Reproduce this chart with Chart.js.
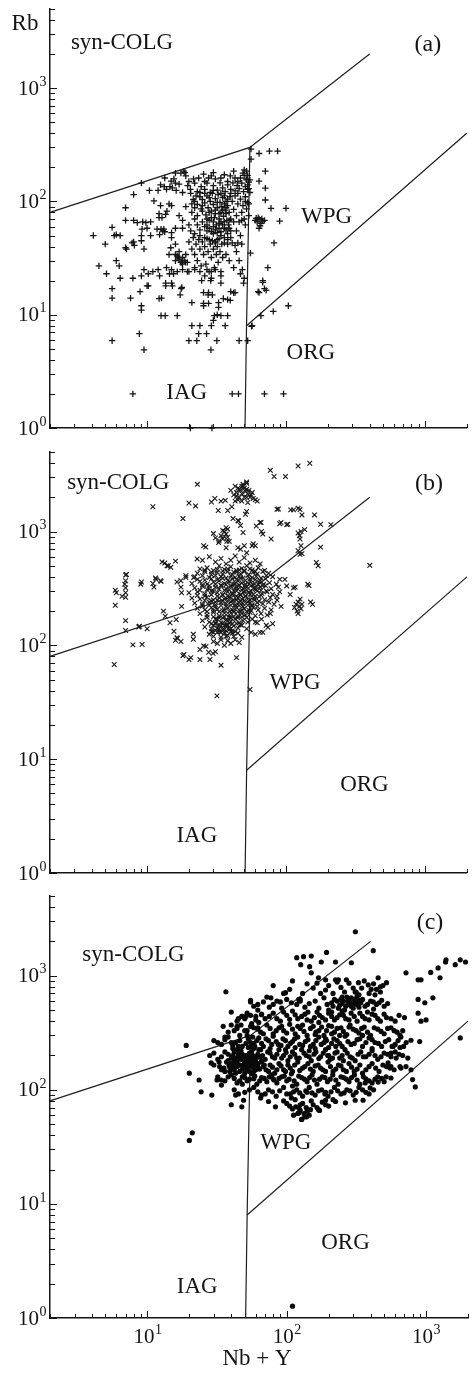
<!DOCTYPE html>
<html>
<head>
<meta charset="utf-8">
<script src="https://cdn.jsdelivr.net/npm/chart.js@4.4.1/dist/chart.umd.min.js"></script>
<style>
  html, body { margin: 0; background: #fff; }
  #sheet { position: relative; width: 472px; height: 1376px; background: #fff; }
  #sheet canvas { position: absolute; left: 0; }
</style>
</head>
<body>
<div id="sheet">
  <canvas id="panelA" width="472" height="440" style="top:0px"></canvas>
  <canvas id="panelB" width="472" height="440" style="top:445px"></canvas>
  <canvas id="panelC" width="472" height="488" style="top:888px"></canvas>
</div>
<script>
// Rb vs Nb+Y discrimination diagram, three sample groups

// axis ranges and tick labels
const xRange = [2, 2000];
const yRange = [1, 5000];
const yTickValues = [1, 10, 100, 1000];
const yTickExponents = ['0', '1', '2', '3'];
const xTickValues = [10, 100, 1000];
const xTickExponents = ['1', '2', '3'];

// field boundaries [Nb+Y, Rb]
const colgBoundary = [[2, 80], [55, 300], [400, 2000]];
const iagBoundary = [[50.7, 1], [52, 8], [55, 300]];
const orgBoundary = [[52, 8], [2000, 400]];

const fieldNames = ['syn-COLG', 'WPG', 'ORG', 'IAG'];

// (a) samples
const pointsA = [
  [4.1,50],[4.5,27],[5.1,23],[5.0,42],[5.6,59],[5.8,50],[6.0,51],[6.4,50],[7.0,88],[7.0,68],[8.0,68],[9.3,66],[10.6,66],
  [7.0,39],[8.0,44],[9.1,50],[9.1,45],[10.6,50],[6.0,30],[6.3,27],[6.4,21],[7.9,21],[9.1,22],[10.2,23],[5.6,17],[5.6,14],
  [7.6,14],[8.9,16],[9.1,12],[9.1,11],[8.8,6.8],[9.5,4.9],[5.6,5.9],[10.2,18],[7.9,2],[9.1,145],[8.0,115],[10.4,125],
  [9.8,65],[10,58],[9.2,57],[8.5,65],[7.1,38],[7.8,43],[8.1,41],[9.5,38],
  [12,125],[13.3,135],[15.2,132],[16,178],[18.7,180],[12.5,92],[13.6,77],[11.8,57],[12.3,51],[13.4,54],[14.8,39],[14.4,34],
  [13.8,26],[16.9,32],[16,34],[17.6,29],[18.9,29],[12.3,22],[14.5,23],[15.5,23],[13.6,18],[15.2,18],[17.6,17],[12.7,14],
  [17.3,15],[12.6,9.8],[13.5,9.8],[16.5,9.8],[11.2,101],[12.2,78],[12.2,72],[12.6,57],[13.2,57],[13,55],[15,53],[16,58],
  [18,58],[20.6,55],[12.8,72],[13.9,82],[14.4,95],[15,92],[9.5,25],[11,24],[12,25],[15,25],[16.5,24],[18,25],[19.5,24],
  [22,25],[24,24],[27,25],[29,24],[31,25],[10,18],[13.6,19],[15,19],[17.8,17.4],[21,12.8],[12.2,13.9],
  [20,5.9],[22.8,5.9],[21,8],[24,8],[23.5,6.8],[26.8,6.8],[28.8,4.9],[31.8,5.9],[25.5,12],[27.5,15],[29.5,15],[32.7,12.8],
  [34,9.8],[38,9.8],[30.5,9.8],[32,10],[29,8],[30,8.9],[36.5,8],[32.7,11.6],[38,13.6],[42,15.6],[40,16],[43,15.7],[48.5,25],
  [50,21],[49.5,19],[47,23],[34,22],[34,19],[24.7,20],[28.7,20],[25.5,15.7],[27.7,15.7],[25.5,12.6],[27.7,12.6],[35.4,13.9],
  [39.7,13.4],[46,5.9],[53,5.9],[56.5,7.9],[41,2],[45.5,2],[20.5,1],[29.3,1],
  [56,290],[64,265],[76,278],[87,278],[56,236],[64,151],[71,185],[71,131],[71,103],[78,87],[100,87],[90,67],[82,43],[55.5,35],
  [74,26],[68,20],[70,17],[63,16],[66,9.8],[81,10.7],[104,12],[57,8],[70,2],[96,2],[68,19.3],[72,16.4],[64,15.7],
  [60,68],[62,66],[64,70],[66,64],[68,67],[63,72],[65,61],[61,71],[67,70],[70,68],[64,58],
  [13.4,161],[14.9,151],[15.6,158],[17.5,178],[18.4,185],[19,168],[21.6,158],[23.5,161],[25.5,174],[27.7,161],[29,168],
  [31,158],[34,161],[39.7,168],[43,161],[47,161],[49,178],[51.7,158],[12.5,140],[13.8,128],[14.6,135],[16.2,125],[17,142],
  [18,120],[19.6,138],[20.5,128],[22,145],[23,122],[24.5,135],[26,128],[27,145],[28.5,120],[30,138],[32,126],[33.5,146],
  [35,132],[36.5,122],[38,140],[40,128],[41.5,146],[43,124],[44.5,138],[46,130],[48,145],[49.5,122],[51,135],[53,128],
  [54,148],[30,180],[36,172],[42,185],[45,150],[50,190],[53,170],[55,155],[38,150],[26,150],[20,150],[16,145],
  [50,170],[52,155],[53,140],[54,130],[55,120],[52,185],[51,100],[54,95],
  [20.6,118],[21.5,104],[22.5,112],[23,94],[24,120],[24.5,86],[25,104],[26,97],[26.5,76],[27,112],[27.5,88],[28,68],
  [28.5,100],[29,82],[29.5,118],[30,94],[30.5,72],[31,106],[31.5,62],[32,88],[32.5,115],[33,78],[33.5,98],[34,66],
  [34.5,90],[35,108],[35.5,74],[36,58],[36.5,84],[37,100],[37.5,68],[38,92],[38.5,62],[39,80],[39.5,110],[40,70],
  [21,80],[22,70],[23,62],[24,56],[25,66],[26,60],[27,55],[28,58],[29,54],[30,60],[31,56],[32,53],[33,58],[34,54],
  [35,62],[36,66],[37,56],[38,52],[39,58],[40,55],[22,88],[25,92],[28,80],[31,84],[34,80],[37,78],[30,66],[27,70],
  [33,70],[36,95],
  [22,100],[24,110],[26,118],[28,108],[30,125],[32,98],[34,118],[36,112],[38,105],[40,118],[23,75],[25,82],[27,62],
  [29,72],[31,78],[33,64],[35,84],[37,88],[39,68],[26,48],[28,46],[30,52],[32,46],[34,50],[36,48],[38,46],[40,48],
  [24,50],[22,52],[20,62],[18,68],[17,75],[19,90],[21,95],
  [41,100],[42,85],[43,112],[44,75],[45,95],[46,66],[47,105],[48,80],[49,92],[50,70],[51,110],[52,86],[53,98],[54,75],
  [42,66],[45,118],[48,68],[51,62],[44,55],[47,50],
  [15,48],[16,42],[16.5,33],[17,31],[17.5,29],[18,32],[18.5,30],[19,34],[17,36],[16,30],[18,28],[19.5,29],[20,44],
  [21,38],[21.5,48],[22,34],[22.5,42],[23,30],[23.5,46],[24,38],[24.5,27],[25,44],[25.5,34],[26,40],[26.5,28],[27,47],
  [27.5,36],[28,24],[28.5,42],[29,32],[29.5,45],[30,38],[30.5,26],[31,44],[31.5,34],[32,40],[32.5,29],[33,47],[33.5,36],
  [34,24],[34.5,42],[35,32],[31,43],[36,43],[38,42],[41,43],[43,41],[45,43],[48,42],[37,34],[39,30],[42,26],[44,36],
  [46,30],[20,24],[22,26],[26,22],[29,21]
];

// (b) samples
const pointsB = [
  [5.8,68],[5.9,305],[6.0,290],[5.9,225],[7.0,415],[7.0,370],[7.0,320],[7.0,290],[7.0,265],[7.0,165],[7.0,135],[7.9,101],
  [9.2,102],[8.7,145],[10,140],[9.0,345],[11,1650],[11,350],[11.5,390],[12.5,370],[13.4,530],[14.2,500],[14.8,485],[16,550],
  [13.1,200],[13.5,180],[14.6,158],[16,111],[16.2,169],[16.5,115],[18.1,81],[18.1,1300],[20,1780],[22.3,1680],[23,2600],
  [22.9,575],[17.5,370],[17.7,290],[17.7,220],[19,410],[20,75],[24,75],[28.3,75],[34,67],[31.8,36],[44,78],[55,41],
  [25.5,99],[21.5,113],[21.5,125],[24,92],[26.5,98],[29.8,85],[6.9,345],[6.6,270],[9.1,360],[11.6,380],[12.6,365],
  [11.2,325],[16.4,360],[17.5,325],[8.8,147],[15.6,133],[16.4,117],[17.5,108],[18.4,83],[20.6,78],[27.7,87],[31,88],
  [7.1,420],[12.8,540],[13.9,500],[19,395],[21.6,395],[26.4,730],
  [29,1820],[30.7,1950],[32.5,1530],[36.5,1880],[38,1530],[40.7,1650],[43,1850],[45.5,1240],[41.5,1300],[52,1500],
  [52,2650],[49,2500],[52,2350],[52,2720],[47,1130],[45,1250],[51,1420],[34,1850],
  [40,2300],[42,2100],[43,2500],[44,2200],[45,2400],[46,2000],[47,2300],[48,2150],[49,2600],[50,2000],[51,2250],
  [53,2150],[55,2000],[57,2200],[60,1900],[45,1900],[48,1850],[53,1800],[58,1950],[62,1850],
  [44,2050],[46,2350],[50,2400],[52,2000],[54,2300],[48,2500],[56,2100],
  [30,960],[31,880],[33,830],[35,1020],[37,1080],[38,890],[37.5,820],[25.5,750],[45,720],[47,700],[49,980],[50,750],
  [52,650],[57,750],[61,1120],[66,1200],[68,950],[65,1200],[66.5,1000],[78,860],[60,750],[58,780],[32.7,800],[37,720],
  [36,900],[37,950],[38,1050],[35,860],[34,920],[39,820],[36,1000],
  [77,3450],[82,3050],[99,3050],[122,3770],[148,3980],[86,1570],[90,1170],[101,1150],[108,1550],[113,1550],[122,1600],
  [126,1560],[130,1400],[122,970],[125,920],[136,1040],[160,1400],[210,1150],[177,1160],[128,1000],[126,860],[128,750],
  [126,630],[88,1580],[92,1200],[103,1160],[400,505],[165,535],[170,500],[146,335],[122,680],[130,640],[155,230],
  [113,320],[98,380],[101,333],[177,730],
  [122,240],[125,220],[120,200],[122,190],[118,230],[128,210],[115,215],[130,230],[116,325],[126,255],[143,345],[150,240],
  [92,220],[107,280],[86,270],[90,380],[77,190],[80,155],[72,150],[68,130],[56,130],[60,160],[66.5,170],[74,144],[60,125],
  [65,130],
  [24,470],[27,480],[30,455],[33,500],[36,465],[40,490],[44,455],[48,475],[52,500],[57,460],[63,480],[70,455],
  [26,460],[29,440],[32,465],[35,450],[38,470],[42,440],[46,460],[50,455],[55,470],[60,445],
  [23,430],[26,445],[29,420],[32,440],[35,425],[38,445],[41,420],[44,440],[47,425],[50,445],[54,420],[58,440],[62,425],
  [68,445],[75,430],
  [22,400],[25,410],[28,395],[31,410],[34,400],[37,390],[40,410],[43,395],[46,405],[49,390],[53,410],[57,395],[61,405],
  [66,390],[72,410],[80,400],
  [23,380],[26,375],[29,385],[32,378],[35,388],[38,372],[41,382],[44,378],[47,388],[51,372],[55,382],[60,378],[65,372],
  [71,385],
  [21,350],[24,365],[27,345],[30,360],[33,370],[36,350],[39,365],[42,345],[45,370],[48,355],[51,345],[55,365],[59,350],
  [64,360],[69,345],[76,355],[85,345],
  [25,340],[28,335],[31,345],[34,338],[37,342],[40,336],[43,348],[46,340],[50,334],[54,346],[58,338],[63,344],[68,336],
  [22,320],[25,330],[28,315],[31,325],[34,335],[37,315],[40,330],[43,320],[46,335],[49,315],[52,325],[56,335],[60,315],
  [65,325],[71,335],[78,315],[88,325],
  [24,305],[27,310],[30,300],[33,312],[36,305],[39,308],[42,300],[45,312],[48,305],[52,308],[56,300],[61,310],[66,305],
  [72,300],
  [20,290],[23,295],[26,285],[29,300],[32,290],[35,280],[38,295],[41,285],[44,300],[47,280],[50,295],[54,290],[58,280],
  [62,300],[67,285],[73,295],[80,280],[90,295],
  [23,275],[26,272],[29,278],[32,270],[35,276],[38,272],[41,280],[44,270],[47,276],[51,272],[55,280],[60,270],[66,276],
  [21,260],[24,255],[27,265],[30,250],[33,262],[36,255],[39,268],[42,250],[45,262],[48,255],[51,268],[55,250],[59,260],
  [64,268],[70,252],[77,262],[86,250],
  [26,248],[29,245],[32,250],[35,244],[38,248],[41,246],[44,250],[47,244],[50,248],[54,246],[59,250],[64,244],
  [22,235],[25,230],[28,240],[31,228],[34,238],[37,232],[40,242],[43,228],[46,238],[49,232],[53,240],[57,228],[62,238],
  [68,232],[75,240],[82,230],
  [25,222],[28,225],[31,220],[34,224],[37,220],[40,225],[43,220],[46,224],[49,220],[53,225],[57,222],[62,220],
  [23,212],[26,205],[29,215],[32,208],[35,202],[38,214],[41,205],[44,215],[47,200],[50,210],[54,204],[58,215],[63,205],
  [70,212],[78,205],
  [27,198],[30,202],[33,198],[36,204],[39,198],[42,202],[45,198],[48,204],[52,198],[56,202],
  [24,190],[27,185],[30,195],[33,182],[36,192],[39,186],[42,196],[45,182],[48,190],[51,185],[55,195],[60,182],[66,190],
  [73,185],
  [27,176],[30,178],[33,174],[36,178],[39,176],[42,180],[45,174],[48,178],[52,176],
  [25,165],[28,160],[31,170],[34,158],[37,168],[40,162],[43,170],[46,158],[49,165],[53,160],[57,170],[62,158],
  [29,155],[31,158],[33,152],[35,156],[37,152],[39,158],[41,154],[44,156],[47,152],
  [26,145],[29,140],[30,150],[32,142],[34,148],[36,138],[38,150],[40,140],[42,148],[45,142],[48,150],[52,140],
  [29,132],[31,136],[33,132],[35,138],[37,134],[39,138],[41,134],[43,132],
  [28,125],[30,120],[32,130],[34,118],[36,128],[38,122],[40,132],[42,120],[45,128],[48,118],
  [30,108],[32,104],[34,112],[36,100],[38,110],[40,104],[43,112],[46,106],
  [25,560],[28,600],[31,540],[34,580],[37,520],[40,560],[43,610],[46,540],[50,590],[55,530],[60,560],[65,520],
  [30,130],[31,155],[32,170],[33,140],[34,130],[35,175],[36,150],[37,120],[38,165],[39,145],[40,175],[41,128]
];

// (c) samples
const pointsC = [
  [19,245],[20,140],[23.5,122],[24.3,96],[29,90],[21,42],[20,36],[36.6,724],[40,74],[47.6,71],[110,1.27],
  [311,2430],[418,1660],[118,1440],[132,1470],[150,1490],[126,1250],[146,1200],[193,1600],[177,1320],[224,1320],
  [291,1300],[150,1060],[169,960],[190,920],[224,920],[235,920],[268,920],[327,870],[315,720],[453,960],[470,800],
  [385,830],[404,760],[430,680],[418,590],[718,1060],[877,920],[920,920],[1080,1070],[1220,1170],[1380,1320],[1390,1380],
  [1620,1250],[1760,1380],[1920,1320],[1260,960],[877,620],[980,580],[1120,640],[877,470],[1000,410],[920,400],[1760,285],
  [780,272],[900,265],[650,235],[580,240],[740,190],[837,106],[800,123],[560,210],[610,190],[534,172],[650,160],[718,160],
  [560,160],[660,155],[780,150],[397,104],[366,115],[453,117],[517,130],[560,127],[98,710],[122,620],[77,640],[55,590],
  [47.6,440],[51,440],[44,360],[56,360],[63,390],[66,455],
  [65,85],[74,79],[83,71],[108,85],[116,71],[122,63],[128,55],[139,58],[148,67],[169,67],[190,81],[224,79],[264,77],
  [310,81],[353,81],[43,90],[49,81],[28.7,172],[32.7,175],[35.4,155],[38.5,165],[31.6,122],[34,110],
  [72,650],[95,700],[110,900],[140,850],[155,780],[175,700],[200,820],[230,880],[260,720],[300,780],[330,680],[360,900],
  [420,850],[470,720],[520,870],[90,590],[125,620],[250,650],
  [80,820],[105,760],[130,700],[165,860],[190,750],[215,700],[245,790],[280,860],[310,720],[345,780],[390,700],[440,760],
  [490,820],
  [55,610],[62,560],[75,530],[85,600],[100,620],[118,560],[135,530],[160,600],[185,640],[210,580],[235,520],[255,600],
  [275,560],[290,640],[310,590],[330,530],[350,620],[380,560],[420,510],[460,580],[500,540],[260,500],[280,610],[300,520],
  [230,600],[200,500],[240,550],[270,650],[320,660],[290,540],
  [58,540],[68,590],[80,560],[92,520],[108,580],[125,600],[145,570],[170,520],[195,560],[220,620],[250,570],[265,540],
  [285,580],[305,620],[320,560],[340,580],[365,540],[400,600],[440,560],[480,610],[530,570],[245,620],[215,540],[300,560],
  [275,600],[330,610],
  [40,480],[48,440],[55,450],[62,500],[70,420],[80,470],[90,400],[100,450],[110,490],[120,420],[135,460],[150,400],
  [165,480],[180,430],[200,470],[220,410],[240,455],[265,420],[290,470],[320,400],[350,440],[390,410],[430,450],[470,400],
  [520,430],[600,400],[640,450],[380,480],[250,490],[210,440],[170,390],[140,410],
  [45,420],[52,470],[60,410],[66,460],[75,440],[85,420],[95,480],[105,415],[115,455],[128,440],[142,480],[158,430],
  [172,450],[190,410],[210,480],[230,430],[255,450],[280,410],[305,440],[335,470],[365,420],[410,460],[450,420],[500,460],
  [560,420],[700,430],
  [35,360],[42,330],[47,370],[52,300],[58,350],[65,320],[72,370],[80,310],[88,350],[95,330],[105,375],[115,310],[125,345],
  [140,300],[155,360],[170,330],[185,300],[200,365],[220,320],[245,350],[270,305],[300,340],[330,315],[360,355],[400,300],
  [450,340],[500,310],[560,350],[620,320],[680,330],[240,300],[210,360],[160,305],[130,370],[285,370],[350,300],
  [38,320],[44,345],[50,330],[55,360],[62,340],[68,310],[76,345],[84,330],[92,360],[100,315],[110,340],[120,360],[133,325],
  [148,345],[162,320],[178,355],[193,330],[210,310],[230,345],[255,325],[280,355],[315,330],[345,345],[380,320],[425,350],
  [475,325],[530,345],[590,330],[650,300],
  [30,270],[34,250],[38,290],[43,260],[48,240],[53,280],[58,255],[63,285],[68,240],[74,270],[80,295],[87,250],[94,280],
  [102,240],[110,265],[120,290],[130,245],[142,275],[155,250],[170,290],[185,260],[200,235],[218,280],[240,255],[262,295],
  [290,250],[320,275],[350,240],[390,285],[430,260],[480,240],[540,275],[600,250],[660,290],[720,260],[225,240],[190,280],
  [160,230],[115,235],[76,230],[410,230],
  [32,260],[36,275],[41,245],[46,270],[51,255],[56,240],[61,270],[66,255],[71,280],[78,250],[84,265],[91,245],[98,270],
  [106,255],[114,280],[124,250],[136,265],[148,240],[162,270],[177,250],[193,270],[210,255],[230,270],[250,240],[275,265],
  [305,255],[335,280],[370,260],[410,275],[455,255],[510,265],[570,240],[630,270],[690,240],
  [28,200],[32,185],[36,215],[40,190],[44,225],[48,205],[52,180],[56,215],[60,195],[65,225],[70,185],[76,210],[82,190],
  [88,225],[95,200],[102,180],[110,215],[118,190],[128,225],[138,200],[150,180],[162,215],[175,195],[190,225],[205,185],
  [222,210],[240,190],[262,225],[285,195],[310,180],[340,215],[370,195],[410,220],[450,185],[500,210],[560,195],[640,205],
  [42,180],[58,230],[66,180],[98,225],[145,220],[200,200],[255,180],
  [30,210],[34,195],[38,205],[42,215],[46,190],[50,200],[54,210],[58,190],[62,205],[67,200],[73,215],[79,195],[85,205],
  [92,190],[99,212],[106,195],[114,205],[123,190],[133,210],[145,195],[157,205],[170,188],[183,210],[197,200],[213,190],
  [230,215],[250,200],[272,210],[295,190],[325,205],[355,195],[390,205],[430,200],[475,195],[530,205],[600,215],[680,200],
  [30,165],[34,150],[37,175],[40,155],[43,170],[46,145],[49,165],[52,150],[55,175],[58,145],[62,160],[66,175],[71,150],
  [76,165],[82,140],[88,170],[95,150],[102,165],[110,145],[120,175],[130,155],[142,170],[155,145],[168,165],[182,150],
  [198,175],[215,145],[235,165],[255,150],[280,170],[305,145],[335,165],[370,150],[410,170],[460,145],[520,160],[590,150],
  [44,160],[50,175],[60,150],[68,160],[53,165],[39,145],
  [33,160],[36,145],[39,158],[42,150],[45,165],[48,152],[51,160],[54,145],[57,158],[60,168],[64,152],[69,165],[74,145],
  [79,158],[85,150],[91,162],[98,145],[106,155],[114,165],[124,148],[135,160],[148,152],[160,162],[175,155],[190,145],
  [206,160],[225,152],[245,162],[268,145],[292,158],[320,152],[350,140],[390,160],[435,155],[490,165],[550,155],
  [32,130],[36,120],[40,135],[44,115],[48,130],[52,120],[56,138],[61,112],[66,128],[72,118],[78,135],[85,115],[92,130],
  [100,120],[108,138],[118,112],[128,128],[140,118],[152,135],[165,112],[180,130],[196,118],[214,135],[234,112],[256,128],
  [280,118],[306,135],[335,112],[370,125],[410,115],[450,130],[500,118],[48,112],[58,125],[80,125],
  [34,122],[38,130],[42,126],[46,120],[50,128],[54,124],[59,132],[64,120],[69,126],[75,130],[81,122],[88,126],[96,132],
  [104,124],[113,120],[122,132],[134,124],[146,128],[158,122],[172,124],[188,128],[205,124],[225,122],[245,130],[268,124],
  [292,128],[320,122],[355,130],[390,120],[430,124],[480,126],
  [42,100],[50,95],[58,105],[66,90],[74,100],[84,88],[95,105],[106,92],[118,100],[130,88],[145,105],[160,90],[178,100],
  [198,88],[220,105],[245,92],[270,100],[300,90],[330,105],[370,95],[420,100],[110,108],[140,95],[190,95],
  [45,92],[54,100],[62,96],[70,92],[79,96],[89,98],[100,92],[112,96],[124,94],[137,98],[152,94],[169,98],[188,92],
  [208,96],[232,98],[258,94],[285,98],[315,95],[350,100],[390,92],
  [95,80],[105,72],[115,82],[122,70],[130,76],[140,65],[150,80],[165,70],[180,78],[200,72],[120,62],[135,58],[145,60],
  [128,55],[100,76],[110,68],[125,74],[138,70],[155,74],[172,66],[190,74],[215,82],[112,60],[125,66],[133,62],
  [38,180],[40,170],[41,200],[42,160],[43,190],[44,175],[45,205],[46,165],[47,185],[48,195],[49,155],[50,185],[51,170],
  [52,200],[53,160],[54,190],[55,180],[56,165],[57,200],[58,175],[60,185],[62,170],[64,195],[47,220],[53,235],[59,240],
  [63,225],[41,230],[45,240],[55,260],[50,140],[43,140],
  [40,370],[44,400],[50,420],[56,380],[60,440],[46,300],[52,330],[57,290],[62,350],[36,290],[40,260]
];

const INK = '#141414';
const SERIF = '"Liberation Serif", "Times New Roman", serif';

const toXY = pairs => pairs.map(([x, y]) => ({ x, y }));

// 2 = decade tick, 1 = minor tick at an integer multiple, 0 = skip
function tickKind(v) {
  const e = Math.floor(Math.log10(v) + 1e-9);
  const s = v / Math.pow(10, e);
  if (Math.abs(s - Math.round(s)) > 1e-6) return 0;
  return Math.round(s) === 1 ? 2 : 1;
}

function drawPower(ctx, exp, x, y, align) {
  ctx.font = '14px ' + SERIF;
  const ew = ctx.measureText(exp).width;
  ctx.font = '21px ' + SERIF;
  const bw = ctx.measureText('10').width;
  const left = align === 'right' ? x - bw - ew : x - (bw + ew) / 2;
  ctx.textAlign = 'left';
  ctx.textBaseline = 'middle';
  ctx.fillText('10', left, y);
  ctx.font = '14px ' + SERIF;
  ctx.fillText(exp, left + bw + 0.5, y - 7);
}

// inward ticks, tick labels, field names and panel tags
const diagramText = {
  id: 'diagramText',
  afterDraw(chart, args, opts) {
    const { ctx, chartArea: area, scales: { x, y } } = chart;
    ctx.save();
    ctx.strokeStyle = INK;
    ctx.fillStyle = INK;
    ctx.lineWidth = 1;

    x.ticks.forEach(t => {
      const k = tickKind(t.value);
      if (!k) return;
      const px = Math.round(x.getPixelForValue(t.value)) + 0.5;
      ctx.beginPath();
      ctx.moveTo(px, area.bottom);
      ctx.lineTo(px, area.bottom - (k === 2 ? 7 : 4));
      ctx.stroke();
    });
    y.ticks.forEach(t => {
      const k = tickKind(t.value);
      if (!k) return;
      const py = Math.round(y.getPixelForValue(t.value)) + 0.5;
      ctx.beginPath();
      ctx.moveTo(area.left, py);
      ctx.lineTo(area.left + (k === 2 ? 7 : 5), py);
      ctx.stroke();
    });

    yTickValues.forEach((v, i) => {
      drawPower(ctx, yTickExponents[i], area.left - 4, y.getPixelForValue(v) + 1, 'right');
    });
    if (opts.xLabels) {
      xTickValues.forEach((v, i) => {
        drawPower(ctx, xTickExponents[i], x.getPixelForValue(v), area.bottom + 19, 'center');
      });
      ctx.font = '23px ' + SERIF;
      ctx.textAlign = 'center';
      ctx.textBaseline = 'middle';
      ctx.fillText('Nb + Y', (area.left + area.right) / 2 - 2, area.bottom + 41);
    }
    if (opts.yTitle) {
      ctx.font = '23px ' + SERIF;
      ctx.textAlign = 'center';
      ctx.textBaseline = 'middle';
      ctx.fillText(opts.yTitle, area.left - 25, area.top + 15);
    }

    ctx.font = '23px ' + SERIF;
    ctx.textAlign = 'center';
    ctx.textBaseline = 'middle';
    fieldNames.forEach((name, i) => {
      const [vx, vy] = opts.fieldAt[i];
      ctx.fillText(name, x.getPixelForValue(vx), y.getPixelForValue(vy));
    });
    ctx.font = '24px ' + SERIF;
    ctx.fillText(opts.tag, x.getPixelForValue(opts.tagAt[0]), y.getPixelForValue(opts.tagAt[1]));
    ctx.restore();
  }
};

function boundary(data) {
  return {
    data: toXY(data),
    showLine: true,
    pointRadius: 0,
    borderColor: '#1e1e1e',
    borderWidth: 1.2,
    fill: false,
    clip: false
  };
}

function makePanel(id, points, marker, layout, text) {
  return new Chart(document.getElementById(id), {
    type: 'scatter',
    data: {
      datasets: [
        {
          data: toXY(points),
          pointStyle: marker.style,
          pointRadius: marker.radius,
          pointBorderWidth: marker.width,
          pointBorderColor: marker.color,
          pointBackgroundColor: marker.color,
          clip: false
        },
        boundary(colgBoundary),
        boundary(iagBoundary),
        boundary(orgBoundary)
      ]
    },
    options: {
      responsive: false,
      animation: false,
      events: [],
      layout: { padding: { top: layout.top, right: 2, left: 0, bottom: 0 } },
      plugins: { legend: { display: false }, tooltip: { enabled: false }, diagramText: text },
      scales: {
        x: {
          type: 'logarithmic',
          min: xRange[0],
          max: xRange[1],
          grid: { display: false },
          border: { display: true, color: INK, width: 1.5 },
          ticks: { display: false, autoSkip: false },
          afterFit: s => { s.height = layout.axis; }
        },
        y: {
          type: 'logarithmic',
          min: yRange[0],
          max: yRange[1],
          grid: { display: false },
          border: { display: true, color: INK, width: 1.5 },
          ticks: { display: false, autoSkip: false },
          afterFit: s => { s.width = 50; }
        }
      }
    },
    plugins: [diagramText]
  });
}

makePanel('panelA', pointsA,
  { style: 'cross', radius: 3.2, width: 1.3, color: '#151515' },
  { top: 9, axis: 12 },
  { yTitle: 'Rb', xLabels: false, tag: '(a)', tagAt: [1050, 2400],
    fieldAt: [[6.6, 2500], [196, 73], [151, 4.6], [19.3, 2.04]] });

makePanel('panelB', pointsB,
  { style: 'crossRot', radius: 3.3, width: 1.1, color: '#171717' },
  { top: 7, axis: 12 },
  { yTitle: '', xLabels: false, tag: '(b)', tagAt: [1068, 2640],
    fieldAt: [[6.2, 2670], [116, 47], [366, 5.96], [22.8, 2.12]] });

makePanel('panelC', pointsC,
  { style: 'circle', radius: 2.6, width: 0, color: '#0a0a0a' },
  { top: 8, axis: 58 },
  { yTitle: '', xLabels: true, tag: '(c)', tagAt: [1068, 2920],
    fieldAt: [[7.94, 1530], [98.4, 34.3], [264, 4.55], [22.8, 1.87]] });
</script>
</body>
</html>
